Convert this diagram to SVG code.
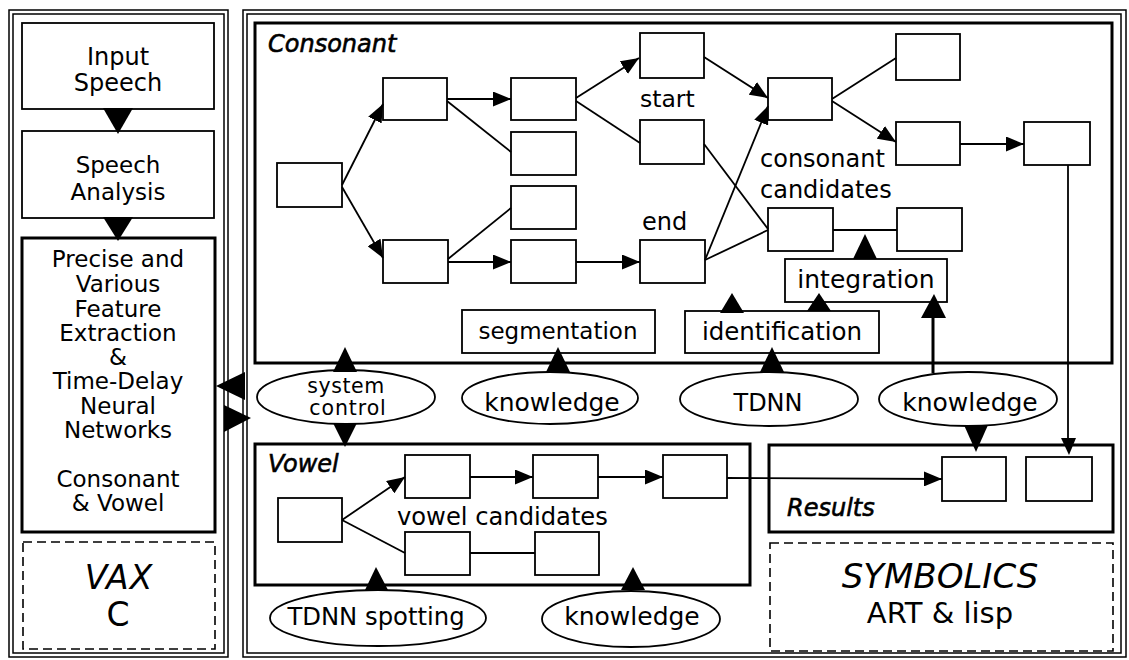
<svg xmlns="http://www.w3.org/2000/svg" width="1129" height="660" viewBox="0 0 1129 660">
  <style>
    text { font-family: "DejaVu Sans", "Liberation Sans", sans-serif; fill: #000; }
    .mid { text-anchor: middle; }
    .frame { fill: none; stroke: #000; stroke-width: 1.5; }
    .box { fill: #fff; stroke: #000; stroke-width: 1.8; }
    .thick { fill: none; stroke: #000; stroke-width: 3; }
    .dash { fill: none; stroke: #000; stroke-width: 1.6; stroke-dasharray: 9 5; }
    .ell { fill: #fff; stroke: #000; stroke-width: 1.8; }
    .line { fill: none; stroke: #000; stroke-width: 1.8; }
    .arr { fill: none; stroke: #000; stroke-width: 1.8; marker-end: url(#head); }
    .tri { fill: #000; stroke: none; }
    .title { font-style: italic; font-size: 24px; stroke: #000; stroke-width: 0.6; }
  </style>
  <defs>
    <marker id="head" markerUnits="userSpaceOnUse" markerWidth="19" markerHeight="15" refX="18" refY="7.5" orient="auto">
      <path d="M0,0 L18,7.5 L0,15 Z" fill="#000"/>
    </marker>
  </defs>

  <rect width="1129" height="660" fill="#fff"/>

  <!-- left panel: VAX side -->
  <g id="panel-vax">
    <rect class="frame" x="9" y="10" width="219" height="647"/>
    <rect class="frame" x="13" y="14" width="211" height="639"/>
  </g>
  <g id="input-speech">
    <rect class="box" x="22" y="23" width="192" height="86"/>
    <text class="mid" x="118" y="65" font-size="24">Input</text>
    <text class="mid" x="118" y="91" font-size="24">Speech</text>
  </g>
  <g id="speech-analysis">
    <rect class="box" x="22" y="131" width="192" height="87"/>
    <text class="mid" x="118" y="172.5" font-size="23">Speech</text>
    <text class="mid" x="118" y="199.5" font-size="23">Analysis</text>
  </g>
  <g id="feature-extraction">
    <rect class="thick" x="22" y="238" width="193" height="294"/>
    <text class="mid" x="118" y="267" font-size="23">Precise and</text>
    <text class="mid" x="118" y="292" font-size="23">Various</text>
    <text class="mid" x="118" y="317" font-size="23">Feature</text>
    <text class="mid" x="118" y="341" font-size="23">Extraction</text>
    <text class="mid" x="118" y="365" font-size="23">&amp;</text>
    <text class="mid" x="118" y="389" font-size="23">Time-Delay</text>
    <text class="mid" x="118" y="414" font-size="23">Neural</text>
    <text class="mid" x="118" y="438" font-size="23">Networks</text>
    <text class="mid" x="118" y="487" font-size="23">Consonant</text>
    <text class="mid" x="118" y="511" font-size="23">&amp; Vowel</text>
  </g>
  <g id="vax-c">
    <rect class="dash" x="23" y="542" width="192" height="107"/>
    <text class="mid" x="119" y="589" font-size="33" font-style="italic" letter-spacing="1">VAX</text>
    <text class="mid" x="118" y="626" font-size="33">C</text>
  </g>

  <!-- right panel: SYMBOLICS side -->
  <g id="panel-symbolics">
    <rect class="frame" x="243" y="10" width="883" height="647"/>
    <rect class="frame" x="247" y="14" width="874" height="639"/>
  </g>

  <g id="consonant">
    <rect class="thick" x="255" y="23" width="857" height="340"/>
    <text class="title" x="268" y="52">Consonant</text>
  </g>
  <g id="c-a"><rect class="box" x="277" y="163" width="65" height="44"/></g>
  <g id="c-b1"><rect class="box" x="383" y="78" width="64" height="42"/></g>
  <g id="c-b2"><rect class="box" x="383" y="240" width="65" height="43"/></g>
  <g id="c-c1"><rect class="box" x="511" y="78" width="65" height="42"/></g>
  <g id="c-c2"><rect class="box" x="511" y="132" width="65" height="43"/></g>
  <g id="c-c3"><rect class="box" x="511" y="186" width="65" height="43"/></g>
  <g id="c-c4"><rect class="box" x="511" y="240" width="65" height="43"/></g>
  <g id="c-start1"><rect class="box" x="640" y="33" width="64" height="45"/></g>
  <g id="c-start2"><rect class="box" x="640" y="120" width="64" height="44"/></g>
  <g id="c-end"><rect class="box" x="640" y="240" width="65" height="43"/></g>
  <g id="c-cand1"><rect class="box" x="768" y="78" width="64" height="42"/></g>
  <g id="c-cand2"><rect class="box" x="768" y="208" width="65" height="43"/></g>
  <g id="c-out1"><rect class="box" x="896" y="34" width="64" height="46"/></g>
  <g id="c-out2"><rect class="box" x="896" y="122" width="64" height="43"/></g>
  <g id="c-out3"><rect class="box" x="897" y="208" width="65" height="43"/></g>
  <g id="c-final"><rect class="box" x="1024" y="122" width="66" height="43"/></g>
  <g id="consonant-labels">
    <text x="640" y="107" font-size="23.5">start</text>
    <text x="760" y="167" font-size="24">consonant</text>
    <text x="760" y="198" font-size="24">candidates</text>
    <text x="642" y="230" font-size="24">end</text>
  </g>

  <g id="segmentation">
    <rect class="box" x="462" y="310" width="193" height="43"/>
    <text class="mid" x="558" y="339" font-size="23">segmentation</text>
  </g>
  <g id="identification">
    <rect class="box" x="685" y="311" width="194" height="42"/>
    <text class="mid" x="782" y="340" font-size="24.5">identification</text>
  </g>
  <g id="integration">
    <rect class="box" x="785" y="259" width="162" height="43"/>
    <text class="mid" x="866" y="288" font-size="25">integration</text>
  </g>

  <g id="system-control">
    <ellipse class="ell" cx="346" cy="397" rx="89" ry="27"/>
    <text class="mid" x="346" y="392.5" font-size="20.5" letter-spacing="0.6">system</text>
    <text class="mid" x="348" y="414.5" font-size="20.5" letter-spacing="0.9">control</text>
  </g>
  <g id="knowledge-seg">
    <ellipse class="ell" cx="550" cy="398" rx="88" ry="26"/>
    <text class="mid" x="552" y="411" font-size="25">knowledge</text>
  </g>
  <g id="tdnn">
    <ellipse class="ell" cx="769" cy="399" rx="89" ry="27"/>
    <text class="mid" x="768" y="411" font-size="24">TDNN</text>
  </g>
  <g id="knowledge-int">
    <ellipse class="ell" cx="968" cy="399" rx="89" ry="27"/>
    <text class="mid" x="970" y="411" font-size="25">knowledge</text>
  </g>

  <g id="vowel">
    <rect class="thick" x="255" y="444" width="495" height="141"/>
    <text class="title" x="268" y="472">Vowel</text>
  </g>
  <g id="v-a"><rect class="box" x="278" y="498" width="64" height="44"/></g>
  <g id="v-b1"><rect class="box" x="405" y="455" width="65" height="43"/></g>
  <g id="v-b2"><rect class="box" x="533" y="455" width="65" height="43"/></g>
  <g id="v-b3"><rect class="box" x="663" y="455" width="64" height="43"/></g>
  <g id="v-c1"><rect class="box" x="405" y="532" width="65" height="43"/></g>
  <g id="v-c2"><rect class="box" x="535" y="532" width="64" height="43"/></g>
  <g id="vowel-label">
    <text x="397" y="525" font-size="24.2">vowel candidates</text>
  </g>

  <g id="tdnn-spotting">
    <ellipse class="ell" cx="378" cy="618" rx="108" ry="28"/>
    <text class="mid" x="376" y="625" font-size="24.3">TDNN spotting</text>
  </g>
  <g id="knowledge-vowel">
    <ellipse class="ell" cx="631" cy="619" rx="89" ry="28"/>
    <text class="mid" x="632" y="625" font-size="25">knowledge</text>
  </g>

  <g id="results">
    <rect class="thick" x="769" y="445" width="344" height="87"/>
    <text class="title" x="787" y="516" font-size="23.5">Results</text>
  </g>
  <g id="r-1"><rect class="box" x="942" y="457" width="64" height="44"/></g>
  <g id="r-2"><rect class="box" x="1026" y="457" width="66" height="44"/></g>

  <g id="symbolics">
    <rect class="dash" x="770" y="543" width="343" height="108"/>
    <text class="mid" x="940" y="588" font-size="34" font-style="italic">SYMBOLICS</text>
    <text class="mid" x="940" y="623" font-size="29">ART &amp; lisp</text>
  </g>

  <!-- connectors -->
  <g id="connectors">
    <!-- left panel flow -->
    <polygon class="tri" points="103,108 133,108 118,134"/>
    <polygon class="tri" points="103,217 133,217 118,241"/>
    <!-- links between the two machines -->
    <polygon class="tri" points="245,372 245,400 216,386"/>
    <polygon class="tri" points="224,405 224,432 251,418"/>

    <!-- consonant network -->
    <line class="arr" x1="342" y1="185" x2="383" y2="104"/>
    <line class="arr" x1="342" y1="187" x2="383" y2="258"/>
    <line class="arr" x1="447" y1="99" x2="511" y2="99"/>
    <line class="line" x1="447" y1="101" x2="511" y2="152"/>
    <line class="line" x1="448" y1="259" x2="511" y2="208"/>
    <line class="arr" x1="448" y1="262" x2="511" y2="262"/>
    <line class="arr" x1="576" y1="262" x2="640" y2="262"/>
    <line class="arr" x1="576" y1="98" x2="639" y2="58"/>
    <line class="line" x1="576" y1="101" x2="640" y2="143"/>
    <line class="arr" x1="704" y1="57" x2="768" y2="98"/>
    <line class="arr" x1="705" y1="260" x2="768" y2="106"/>
    <line class="line" x1="704" y1="144" x2="768" y2="229"/>
    <line class="line" x1="705" y1="260" x2="768" y2="230"/>
    <line class="line" x1="832" y1="99" x2="896" y2="58"/>
    <line class="arr" x1="832" y1="101" x2="896" y2="142"/>
    <line class="arr" x1="960" y1="144" x2="1024" y2="144"/>
    <line class="line" x1="833" y1="230" x2="897" y2="230"/>

    <!-- consonant result down to results -->
    <line class="line" x1="1068" y1="165" x2="1068" y2="440"/>
    <polygon class="tri" points="1061,438 1076,438 1069,455"/>

    <!-- support processes into the consonant network -->
    <polygon class="tri" points="333,372 357,372 345,347"/>
    <polygon class="tri" points="333,423 357,423 345,447"/>
    <polygon class="tri" points="546,372 570,372 558,347"/>
    <polygon class="tri" points="760,372 784,372 772,347"/>
    <polygon class="tri" points="720,313 744,313 732,293"/>
    <polygon class="tri" points="807,311 831,311 819,293"/>
    <polygon class="tri" points="853,259 877,259 865,234"/>
    <line x1="933" y1="373" x2="933" y2="316" stroke="#000" stroke-width="3"/>
    <polygon class="tri" points="921,318 946,318 934,294"/>
    <polygon class="tri" points="964,425 988,425 976,452"/>

    <!-- vowel network -->
    <line class="arr" x1="342" y1="520" x2="405" y2="477"/>
    <line class="line" x1="342" y1="520" x2="405" y2="553"/>
    <line class="arr" x1="470" y1="477" x2="533" y2="477"/>
    <line class="arr" x1="598" y1="477" x2="663" y2="477"/>
    <line class="line" x1="470" y1="553" x2="535" y2="553"/>
    <line class="arr" x1="727" y1="478" x2="942" y2="479"/>
    <polygon class="tri" points="365,590 388,590 376,567"/>
    <polygon class="tri" points="621,590 645,590 633,567"/>
  </g>
</svg>
